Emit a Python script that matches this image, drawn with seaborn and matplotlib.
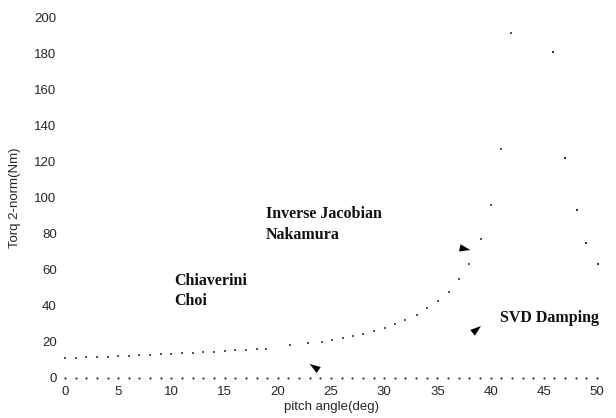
import matplotlib
matplotlib.use("Agg")
import matplotlib.pyplot as plt
import seaborn as sns
import pandas as pd

# rising branch of the torque curve
curve_x = [0, 1, 2, 3, 4, 5, 6, 7, 8, 9, 10, 11, 12, 13, 14, 15, 16, 17, 18,
           18.9, 21.1, 22.8, 24.2, 25.1, 26.1, 27.1, 28, 29, 30.1, 31, 32,
           33.1, 34, 35.1, 36.1, 37, 38, 39.1, 40, 41, 41.9]
curve_y = [11, 11.2, 11.4, 11.6, 11.8, 12, 12.2, 12.5, 12.8, 13.1, 13.4, 13.7,
           14, 14.3, 14.6, 15, 15.3, 15.6, 15.9, 16.1, 18.3, 19.4, 20, 21, 22,
           23.3, 24.4, 26, 27.7, 29.9, 32, 35, 38.8, 42.7, 47.8, 55, 63, 77,
           96, 127, 191]
# falling branch after the peak
fall_x = [45.9, 47, 48.1, 49, 50.1]
fall_y = [180.6, 122, 93, 75, 63]
# flat curve at zero
zero_x = list(range(0, 51))
zero_y = [0] * len(zero_x)

x_ticks = [0, 5, 10, 15, 20, 25, 30, 35, 40, 45, 50]
y_ticks = [0, 20, 40, 60, 80, 100, 120, 140, 160, 180, 200]

sns.set_theme(style="white")
plt.rcParams['font.family'] = ['Liberation Sans', 'DejaVu Sans']

fig = plt.figure(figsize=(6.16, 4.18), dpi=100)
ax = fig.add_axes([65 / 616, 1 - 378 / 418, (597 - 65) / 616, (378 - 17) / 418])

df_up = pd.DataFrame({"x": curve_x, "y": curve_y})
df_down = pd.DataFrame({"x": fall_x, "y": fall_y})
df_zero = pd.DataFrame({"x": zero_x, "y": zero_y})

sns.scatterplot(data=df_up, x="x", y="y", ax=ax, s=3, color="#555555",
                marker="s", linewidth=0, clip_on=False)
sns.scatterplot(data=df_down, x="x", y="y", ax=ax, s=3, color="#333333",
                marker="s", linewidth=0, clip_on=False)
sns.scatterplot(data=df_zero, x="x", y="y", ax=ax, s=2.5, color="#333333",
                marker="o", linewidth=0, clip_on=False)

# arrow heads only: tip in data coords, invisible shaft given as offset in points
arrows = [((38.1, 70.9), (-20, 4)),
          ((39.1, 28.8), (-15, -12)),
          ((23.0, 7.8), (16, -11))]
for tip, off in arrows:
    ax.annotate("", xy=tip, xytext=off, textcoords="offset points",
                arrowprops=dict(arrowstyle="-|>,head_length=0.65,head_width=0.22",
                                color="black", lw=0, mutation_scale=12,
                                shrinkA=0, shrinkB=0))

serif = dict(family="Liberation Serif", fontweight="bold", fontsize=11.5,
             color="#111111")
ax.text(18.9, 91, "Inverse Jacobian", va="center", **serif)
ax.text(18.9, 79, "Nakamura", va="center", **serif)
ax.text(10.3, 54, "Chiaverini", va="center", **serif)
ax.text(10.3, 42.5, "Choi", va="center", **serif)
ax.text(40.9, 33, "SVD Damping", va="center", **serif)

ax.set_xlim(0, 50)
ax.set_ylim(0, 200)
ax.set_xticks(x_ticks)
ax.set_yticks(y_ticks)
ax.tick_params(axis="both", labelsize=9.5, length=0, pad=6)
ax.set_xlabel("pitch angle(deg)", fontsize=9.5, labelpad=2)
ax.set_ylabel("Torq 2-norm(Nm)", fontsize=9.5, labelpad=10)
for sp in ax.spines.values():
    sp.set_visible(False)

fig.savefig("out.png", dpi=100)
